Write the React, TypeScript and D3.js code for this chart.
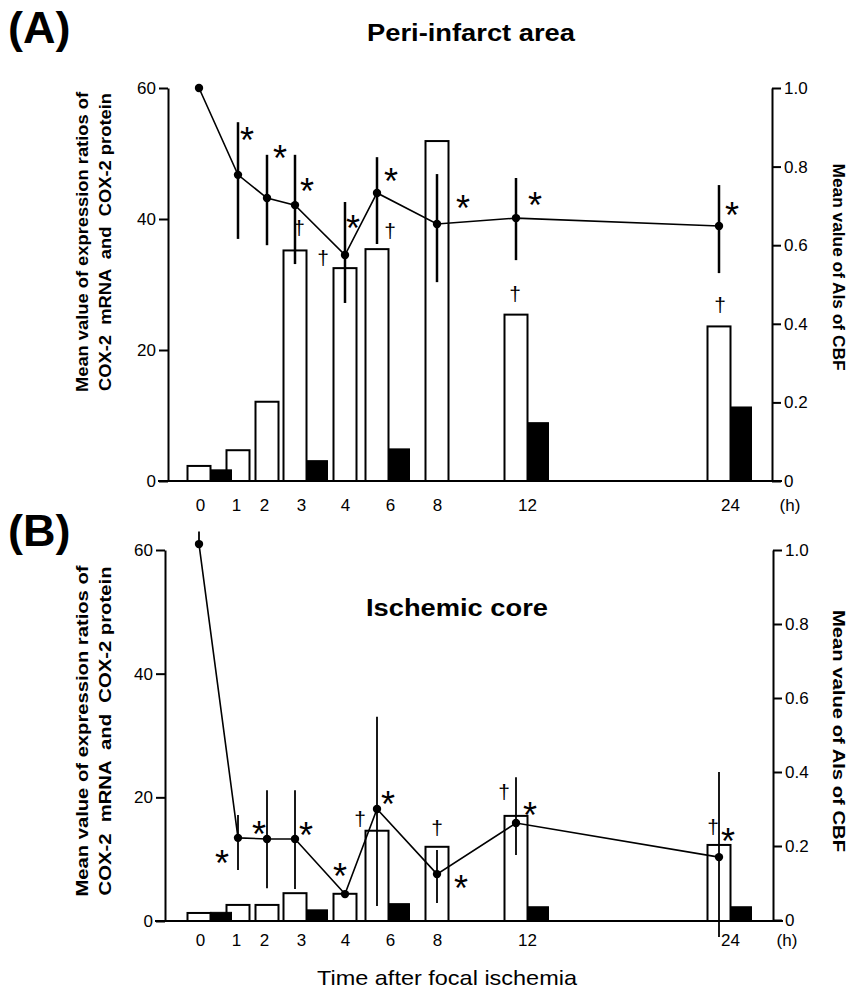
import { useEffect, useRef } from 'react'
import { axisBottom, axisLeft, axisRight, line, scaleLinear, select } from 'd3'
import type { Selection } from 'd3'

// time after focal ischemia (h)
const hours = [0, 1, 2, 3, 4, 6, 8, 12, 24]
const hourLabels = ['0', '1', '2', '3', '4', '6', '8', '12', '24']

// (A) peri-infarct area
const mrnaA = [2.3, 4.7, 12.1, 35.2, 32.5, 35.4, 51.9, 25.4, 23.6]
const proteinA = [1.7, null, null, 3.1, null, 4.9, null, 8.9, 11.3]
const cbfA = [1.0, 0.779, 0.72, 0.702, 0.575, 0.733, 0.654, 0.669, 0.649]
const cbfHighA = [null, 0.913, 0.83, 0.83, 0.71, 0.824, 0.781, 0.771, 0.753]
const cbfLowA = [null, 0.616, 0.6, 0.552, 0.453, 0.603, 0.506, 0.562, 0.529]
const starsA = [1, 2, 3, 4, 6, 8, 12, 24]
const daggersA = [3, 4, 6, 12, 24]

// (B) ischemic core
const mrnaB = [1.3, 2.6, 2.6, 4.5, 4.4, 14.6, 12.0, 17.0, 12.3]
const proteinB = [1.4, null, null, 1.8, null, 2.8, null, 2.3, 2.3]
const cbfB = [1.016, 0.222, 0.219, 0.219, 0.07, 0.3, 0.124, 0.262, 0.17]
const cbfHighB = [1.05, 0.284, 0.351, 0.351, null, 0.549, 0.189, 0.386, 0.4]
const cbfLowB = [1.016, 0.135, 0.086, 0.084, null, 0.038, 0.046, 0.176, -0.046]
const starsB = [1, 2, 3, 4, 6, 8, 12, 24]
const daggersB = [6, 8, 12, 24]

const leftTicks = [0, 20, 40, 60]
const rightTicks = [0, 0.2, 0.4, 0.6, 0.8, 1.0]
const rightTickLabels = ['0', '0.2', '0.4', '0.6', '0.8', '1.0']

const FONT = '"Liberation Sans", Arial, Helvetica, sans-serif'

// irregular time axis of the original figure
const markX = scaleLinear()
  .domain(hours)
  .range([199, 238, 267, 295, 345, 377, 437, 516, 719])
const tickX = scaleLinear()
  .domain(hours)
  .range([200, 236, 264, 301, 345, 390, 437, 527, 730])

const barW = 23
const blackW = 21

type Offset = Record<number, [number, number]>

type PanelData = {
  mrna: number[]
  protein: (number | null)[]
  cbf: number[]
  cbfHigh: (number | null)[]
  cbfLow: (number | null)[]
  stars: number[]
  daggers: number[]
}

type PanelLayout = {
  leftX: number
  rightX: number
  leftRange: [number, number]
  rightRange: [number, number]
  labelTop: number
  hX: number
  tag: string
  tagY: number
  title: string
  titleX: number
  titleY: number
  titleLen: number
  yTitleMid: number
  yTitleLen: number
  rTitleMid: number
  rTitleLen: number
  errWidth: number
  starOffset: Offset
  daggerOffset: Offset
}

const layoutA: PanelLayout = {
  leftX: 168,
  rightX: 772,
  leftRange: [481, 88],
  rightRange: [481, 88],
  labelTop: 499,
  hX: 790,
  tag: '(A)',
  tagY: 43,
  title: 'Peri-infarct area',
  titleX: 367,
  titleY: 41,
  titleLen: 208,
  yTitleMid: 242,
  yTitleLen: 300,
  rTitleMid: 267,
  rTitleLen: 207,
  errWidth: 2.5,
  starOffset: {
    1: [9, -43], 2: [13, -48], 3: [12, -22], 4: [8, -35],
    6: [14, -20], 8: [26, -24], 12: [19, -21], 24: [13, -19],
  },
  daggerOffset: { 3: [4, -21], 4: [-22, -9], 6: [13, -17], 12: [-1, -20], 24: [1, -20] },
}

const layoutB: PanelLayout = {
  leftX: 165,
  rightX: 773,
  leftRange: [921, 550],
  rightRange: [920, 550],
  labelTop: 934,
  hX: 787,
  tag: '(B)',
  tagY: 546,
  title: 'Ischemic core',
  titleX: 366,
  titleY: 616,
  titleLen: 182,
  yTitleMid: 731,
  yTitleLen: 331,
  rTitleMid: 731,
  rTitleLen: 242,
  errWidth: 1.8,
  starOffset: {
    1: [-16, 17], 2: [-8, -13], 3: [11, -12], 4: [-5, -26],
    6: [11, -13], 8: [24, 6], 12: [14, -16], 24: [9, -24],
  },
  daggerOffset: { 6: [-17, -11], 8: [0, -18], 12: [-12, -23], 24: [-6, -17] },
}

function styleAxis(g: Selection<SVGGElement, unknown, null, undefined>) {
  g.attr('font-family', FONT).attr('font-size', 17)
  g.selectAll('path, line').attr('stroke', '#000').attr('stroke-width', 2)
  g.selectAll('text').attr('fill', '#000')
}

function Panel({ d, p }: { d: PanelData; p: PanelLayout }) {
  const leftRef = useRef<SVGGElement>(null)
  const rightRef = useRef<SVGGElement>(null)
  const bottomRef = useRef<SVGGElement>(null)

  const yLeft = scaleLinear().domain([0, 60]).range(p.leftRange)
  const yRight = scaleLinear().domain([0, 1]).range(p.rightRange)
  const baseY = yLeft(0)

  useEffect(() => {
    if (!leftRef.current || !rightRef.current || !bottomRef.current) return
    const left = select(leftRef.current)
    left.call(
      axisLeft(yLeft).tickValues(leftTicks).tickSize(9).tickSizeOuter(0).tickPadding(3),
    )
    styleAxis(left)

    const right = select(rightRef.current)
    right.call(
      axisRight(yRight)
        .tickValues(rightTicks)
        .tickFormat((_, i) => rightTickLabels[i])
        .tickSize(9)
        .tickSizeOuter(0)
        .tickPadding(3),
    )
    styleAxis(right)

    const bottom = select(bottomRef.current)
    bottom.call(
      axisBottom(tickX)
        .tickValues(hours)
        .tickFormat((_, i) => hourLabels[i])
        .tickSize(0)
        .tickPadding(0),
    )
    styleAxis(bottom)
    bottom.select('.domain').remove()
  })

  const cbfLine = line<number>()
    .x((_, i) => markX(hours[i]))
    .y((v) => yRight(v))

  return (
    <g>
      <text x={8} y={p.tagY} fontFamily={FONT} fontWeight="bold" fontSize={45}>
        {p.tag}
      </text>
      <text
        x={p.titleX}
        y={p.titleY}
        fontFamily={FONT}
        fontWeight="bold"
        fontSize={23}
        textLength={p.titleLen}
        lengthAdjust="spacingAndGlyphs"
      >
        {p.title}
      </text>

      {/* left axis title, two lines */}
      <g fontFamily={FONT} fontWeight="bold" fontSize={16}>
        <text
          transform={`translate(88, ${p.yTitleMid}) rotate(-90)`}
          textAnchor="middle"
          textLength={p.yTitleLen}
          lengthAdjust="spacingAndGlyphs"
        >
          Mean value of expression ratios of
        </text>
        <text
          transform={`translate(111, ${p.yTitleMid}) rotate(-90)`}
          textAnchor="middle"
          textLength={p.yTitleLen - 2}
          lengthAdjust="spacingAndGlyphs"
          style={{ whiteSpace: 'pre' }}
        >
          {'COX-2  mRNA  and  COX-2 protein'}
        </text>
        <text
          transform={`translate(833, ${p.rTitleMid}) rotate(90)`}
          textAnchor="middle"
          textLength={p.rTitleLen}
          lengthAdjust="spacingAndGlyphs"
        >
          Mean value of AIs of CBF
        </text>
      </g>

      {/* bars: mRNA open, protein filled */}
      {d.mrna.map((v, i) => (
        <rect
          key={`m${i}`}
          x={markX(hours[i]) - barW / 2}
          y={yLeft(v)}
          width={barW}
          height={baseY - yLeft(v)}
          fill="#fff"
          stroke="#000"
          strokeWidth={2}
        />
      ))}
      {d.protein.map((v, i) =>
        v == null ? null : (
          <rect
            key={`p${i}`}
            x={markX(hours[i]) + barW / 2}
            y={yLeft(v)}
            width={blackW}
            height={baseY - yLeft(v)}
            fill="#000"
            stroke="#000"
            strokeWidth={1}
          />
        ),
      )}

      {/* baseline */}
      <line x1={p.leftX - 10} x2={p.rightX + 10} y1={baseY} y2={baseY} stroke="#000" strokeWidth={2} />

      <g ref={leftRef} transform={`translate(${p.leftX}, 0)`} />
      <g ref={rightRef} transform={`translate(${p.rightX}, 0)`} />
      <g ref={bottomRef} transform={`translate(0, ${p.labelTop})`} />
      <text x={p.hX} y={p.labelTop + 12} fontFamily={FONT} fontSize={17} textAnchor="middle">
        (h)
      </text>

      {/* error bars of CBF */}
      {d.cbf.map((_, i) => {
        const hi = d.cbfHigh[i]
        const lo = d.cbfLow[i]
        if (hi == null || lo == null) return null
        return (
          <line
            key={`e${i}`}
            x1={markX(hours[i])}
            x2={markX(hours[i])}
            y1={yRight(hi)}
            y2={yRight(lo)}
            stroke="#000"
            strokeWidth={p.errWidth}
          />
        )
      })}

      <path d={cbfLine(d.cbf) ?? ''} fill="none" stroke="#000" strokeWidth={1.6} />
      {d.cbf.map((v, i) => (
        <circle key={`c${i}`} cx={markX(hours[i])} cy={yRight(v)} r={4.2} fill="#000" />
      ))}

      {/* significance marks */}
      <g fontFamily={FONT} textAnchor="middle" fill="#000">
        {d.stars.map((h) => {
          const i = hours.indexOf(h)
          const [dx, dy] = p.starOffset[h]
          return (
            <text key={`s${h}`} x={markX(h) + dx} y={yRight(d.cbf[i]) + dy + 21} fontSize={36}>
              *
            </text>
          )
        })}
        {d.daggers.map((h) => {
          const i = hours.indexOf(h)
          const [dx, dy] = p.daggerOffset[h]
          return (
            <text
              key={`d${h}`}
              x={markX(h) + dx}
              y={yLeft(d.mrna[i]) + dy + 6}
              fontSize={21}
              fill="#000"
            >
              †
            </text>
          )
        })}
      </g>
    </g>
  )
}

export default function App() {
  const dataA: PanelData = {
    mrna: mrnaA,
    protein: proteinA,
    cbf: cbfA,
    cbfHigh: cbfHighA,
    cbfLow: cbfLowA,
    stars: starsA,
    daggers: daggersA,
  }
  const dataB: PanelData = {
    mrna: mrnaB,
    protein: proteinB,
    cbf: cbfB,
    cbfHigh: cbfHighB,
    cbfLow: cbfLowB,
    stars: starsB,
    daggers: daggersB,
  }

  return (
    <svg
      width={854}
      height={991}
      viewBox="0 0 854 991"
      style={{ position: 'absolute', left: 0, top: 0, background: '#fff' }}
    >
      <Panel d={dataA} p={layoutA} />
      <Panel d={dataB} p={layoutB} />
      <text
        x={317}
        y={985}
        fontFamily={FONT}
        fontSize={21}
        textLength={260}
        lengthAdjust="spacingAndGlyphs"
      >
        Time after focal ischemia
      </text>
    </svg>
  )
}
